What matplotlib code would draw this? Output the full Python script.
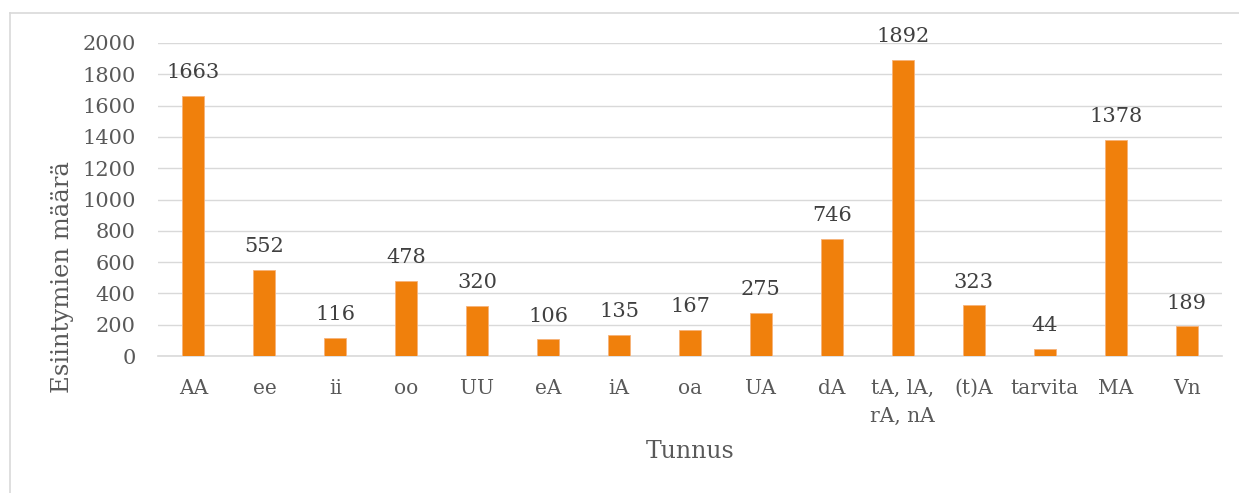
import matplotlib
matplotlib.use("Agg")
import matplotlib.pyplot as plt
from matplotlib.lines import Line2D

categories = ["AA", "ee", "ii", "oo", "UU", "eA", "iA", "oa", "UA", "dA",
              "tA, lA,\nrA, nA", "(t)A", "tarvita", "MA", "Vn"]
values = [1663, 552, 116, 478, 320, 106, 135, 167, 275, 746, 1892, 323, 44, 1378, 189]
yticks = [0, 200, 400, 600, 800, 1000, 1200, 1400, 1600, 1800, 2000]

plt.rcParams['font.family'] = ['DejaVu Serif']
W, H = 1239, 493
fig = plt.figure(figsize=(W / 100, H / 100), dpi=100)
ax = fig.add_axes([158 / W, 1 - 356 / H, (1222 - 158) / W, (356 - 43) / H])

x = list(range(len(categories)))
ax.bar(x, values, width=0.31, color='#F0800C', edgecolor='#F6B27A', linewidth=0.6, zorder=3)
ax.set_xlim(-0.5, len(categories) - 0.5)
ax.set_ylim(0, 2000)
ax.set_yticks(yticks)
ax.set_yticklabels([str(t) for t in yticks])
ax.set_xticks(x)
ax.set_xticklabels(categories, linespacing=1.62)
ax.tick_params(axis='y', length=0, pad=16, labelsize=15, labelcolor='#595959')
ax.tick_params(axis='x', length=0, pad=16.5, labelsize=14.5, labelcolor='#595959')
for lab in ax.get_xticklabels():
    lab.set_verticalalignment('top')

ax.grid(axis='y', color='#D9D9D9', linewidth=1.0, zorder=0)
for s in ['top', 'right', 'left']:
    ax.spines[s].set_visible(False)
ax.spines['bottom'].set_color('#D9D9D9')
ax.spines['bottom'].set_linewidth(1.2)

for xi, v in zip(x, values):
    ax.annotate(str(v), (xi, v), xytext=(0, 10), textcoords='offset points',
                ha='center', va='bottom', fontsize=15, color='#404040')

fig.text(62 / W, 1 - 277 / H, "Esiintymien määrä", rotation=90, ha='center', va='center',
         fontsize=17.5, color='#595959')
fig.text(690 / W, 1 - 452 / H, "Tunnus", ha='center', va='center', fontsize=17, color='#595959')

fig.add_artist(Line2D([10 / W, 10 / W], [0, 1 - 13 / H], color='#D9D9D9', linewidth=1.2,
                      transform=fig.transFigure))
fig.add_artist(Line2D([10 / W, 1], [1 - 13 / H, 1 - 13 / H], color='#D9D9D9', linewidth=1.2,
                      transform=fig.transFigure))

fig.savefig("out.png", dpi=100)
